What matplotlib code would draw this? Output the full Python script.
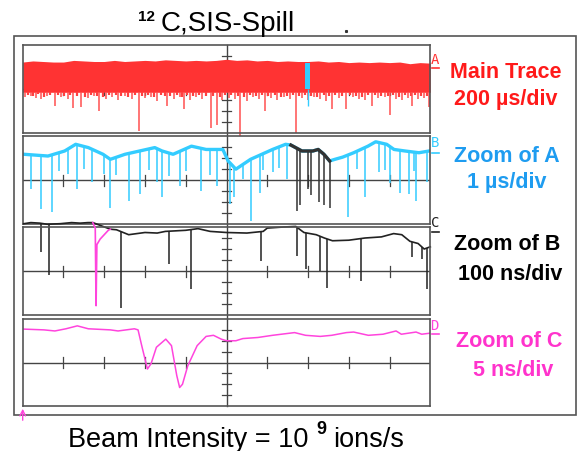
import numpy as np
import matplotlib
matplotlib.use("Agg")
import matplotlib.pyplot as plt
from matplotlib.patches import Rectangle

# ---- data (x in screen divisions 0..10, y in sub-divisions -4..4) ----
# channel A: main trace, a dense band plus downward spikes
a_x = [0, 0.25, 0.5, 0.75, 1, 1.25, 1.5, 1.75, 2, 2.25, 2.5, 2.75, 3, 3.25, 3.5, 3.75,
       4, 4.25, 4.5, 4.75, 5, 5.25, 5.5, 5.75, 6, 6.25, 6.5, 6.75, 7, 7.25, 7.5, 7.75,
       8, 8.25, 8.5, 8.75, 9, 9.25, 9.5, 9.75, 10]
a_top = [2.45, 2.55, 2.5, 2.45, 2.45, 2.6, 2.55, 2.5, 2.5, 2.6, 2.5, 2.55, 2.6, 2.55, 2.65,
         2.6, 2.55, 2.6, 2.55, 2.6, 2.7, 2.6, 2.65, 2.55, 2.6, 2.5, 2.55, 2.5, 2.5, 2.55,
         2.45, 2.5, 2.4, 2.45, 2.4, 2.45, 2.4, 2.45, 2.3, 2.4, 2.35]
a_spk_x = [0.05, 0.2, 0.32, 0.44, 0.6, 0.79, 0.95, 1.1, 1.24, 1.43, 1.6, 1.75, 1.88, 2.05,
           2.2, 2.35, 2.5, 2.68, 2.85, 3.0, 3.15, 3.3, 3.55, 3.7, 3.85, 3.96, 4.1, 4.25,
           4.4, 4.61, 4.76, 4.9, 5.05, 5.2, 5.33, 5.5, 5.65, 5.8, 5.94, 6.1, 6.25, 6.4,
           6.55, 6.7, 6.85, 7.0, 7.15, 7.3, 7.45, 7.58, 7.75, 7.93, 8.1, 8.25, 8.4, 8.57,
           8.72, 8.88, 9.01, 9.15, 9.3, 9.45, 9.56, 9.7, 9.85, 9.97]
a_spk_y = [-0.7, -0.6, -0.8, -0.9, -0.6, -1.5, -0.7, -0.9, -1.7, -1.6, -0.8, -0.6, -2.0, -0.9,
           -0.7, -1.0, -0.6, -0.9, -3.8, -0.8, -0.7, -1.1, -1.5, -0.9, -0.7, -1.8, -1.0, -0.7,
           -0.9, -3.5, -3.3, -1.0, -0.8, -0.9, -4.3, -1.1, -0.7, -0.9, -2.0, -0.8, -1.0, -0.7,
           -0.9, -4.0, -0.8, -1.0, -0.7, -0.9, -1.1, -1.8, -0.8, -1.8, -0.7, -0.9, -1.0, -1.5,
           -0.8, -0.7, -2.4, -0.9, -1.0, -0.8, -1.5, -0.9, -0.8, -1.6]
# short fringe under the band
a_frg_x = [0.12, 0.26, 0.38, 0.52, 0.68, 0.87, 1.02, 1.17, 1.33, 1.52, 1.68, 1.82, 1.97,
           2.12, 2.28, 2.42, 2.58, 2.76, 2.93, 3.08, 3.22, 3.4, 3.48, 3.62, 3.78, 3.9,
           4.03, 4.18, 4.33, 4.5, 4.68, 4.83, 4.97, 5.12, 5.27, 5.42, 5.58, 5.72, 5.87,
           6.02, 6.18, 6.33, 6.48, 6.62, 6.78, 6.92, 7.08, 7.22, 7.38, 7.52, 7.67, 7.84,
           8.02, 8.18, 8.33, 8.48, 8.65, 8.8, 8.95, 9.08, 9.23, 9.38, 9.52, 9.63, 9.78,
           9.92]
a_frg_y = [-0.5, -0.6, -0.45, -0.7, -0.5, -0.55, -0.65, -0.5, -0.6, -0.75, -0.5, -0.6, -0.7,
           -0.55, -0.5, -0.65, -0.7, -0.5, -0.6, -0.55, -0.7, -0.5, -0.65, -0.6, -0.5,
           -0.7, -0.55, -0.6, -0.5, -0.65, -0.6, -0.7, -0.5, -0.55, -0.6, -0.7, -0.5,
           -0.6, -0.55, -0.65, -0.5, -0.7, -0.6, -0.5, -0.65, -0.55, -0.6, -0.7, -0.5,
           -0.6, -0.55, -0.65, -0.5, -0.6, -0.7, -0.55, -0.5, -0.6, -0.65, -0.5, -0.7,
           -0.55, -0.6, -0.5, -0.65, -0.6]
a_zoom_x = 6.99  # marked part that is expanded in B

# channel B: zoom of A (blue), black part expanded in C
b_x = [0.03, 0.62, 1.03, 1.3, 1.61, 1.97, 2.15, 2.51, 3.24, 3.42, 3.69, 4.14, 4.5, 4.91,
       5.04, 5.23, 5.59, 6.13, 6.45, 6.58, 6.85, 7.12, 7.25, 7.39, 7.53, 7.66, 7.85, 8.12,
       8.47, 8.66, 8.93, 9.11, 9.38, 9.72, 9.97]
b_y = [2.36, 2.2, 2.66, 3.27, 2.97, 2.36, 1.9, 2.36, 2.97, 2.66, 2.36, 3.1, 2.8, 2.8,
       1.75, 1.0, 1.9, 2.8, 3.27, 3.2, 2.66, 2.66, 2.8, 2.36, 1.75, 1.9, 2.1, 2.5,
       3.1, 3.5, 3.27, 2.8, 2.66, 2.5, 2.66]
b_black = (6.58, 7.53)
b_spk_x = [0.21, 0.44, 0.71, 0.9, 1.11, 1.34, 1.5, 1.7, 2.0, 2.15, 2.3, 2.61, 2.88, 3.1,
           3.3, 3.42, 3.6, 3.87, 4.0, 4.37, 4.6, 4.77, 5.09, 5.18, 5.4, 5.59, 5.81, 5.9,
           6.13, 6.3, 6.48, 6.74, 6.8, 6.99, 7.07, 7.26, 7.39, 7.53, 7.98, 8.2, 8.39,
           8.74, 8.9, 9.02, 9.25, 9.47, 9.6, 9.65, 9.92]
b_spk_y = [-0.8, -2.6, -2.9, 0.8, 0.55, -0.8, 1.0, -0.2, 0.6, -2.5, 0.5, -1.9, -1.3, 0.9,
           -0.2, -1.5, 0.4, -0.5, 0.8, -1.0, 0.5, -0.5, -2.2, -1.5, 0.1, -3.7, -1.2, 0.9,
           0.7, 1.1, 0.1, -2.8, -2.3, -0.8, -1.4, -2.0, -2.3, -2.5, -3.4, 1.0, -1.5,
           0.7, 0.9, -0.3, -1.2, -1.3, 0.8, -1.9, -0.2]

# channel C: zoom of B (black), pink part expanded in D
c_x = [0.03, 0.2, 0.42, 0.6, 0.92, 1.2, 1.41, 1.6, 1.72, 2.15, 2.3, 2.6, 3.0, 3.3, 3.5,
       4.0, 4.3, 4.6, 5.0, 5.5, 5.9, 6.0, 6.4, 6.7, 6.9, 7.2, 7.4, 7.6, 8.0, 8.4, 8.8,
       9.1, 9.3, 9.5, 9.7, 9.85, 10.0]
c_y = [4.3, 4.4, 4.35, 4.25, 4.3, 4.4, 4.35, 4.4, 4.4, 3.8, 3.75, 3.3, 3.5, 3.45, 3.6,
       3.7, 3.85, 3.6, 3.5, 3.45, 3.6, 3.9, 4.0, 4.05, 3.5, 3.3, 3.0, 2.75, 2.8, 3.0, 3.1,
       3.4, 3.3, 2.7, 2.5, 2.0, 2.2]
c_pink_x = [1.72, 1.78, 1.8, 1.82, 1.9, 2.0, 2.1, 2.15]
c_pink_y = [4.4, 3.9, -3.15, 2.4, 2.9, 3.3, 3.7, 3.8]
c_spk_x = [0.46, 0.65, 2.42, 3.6, 4.12, 5.84, 6.72, 6.94, 7.29, 7.47, 8.3, 9.56, 9.79, 9.91]
c_spk_y = [1.7, -0.4, -3.4, 0.6, -1.6, 0.9, 1.4, 0.2, 0.0, -1.5, -0.9, 1.3, 1.1, -1.6]

# channel D: zoom of C (pink)
d_x = [0.03, 0.52, 0.79, 1.06, 1.34, 1.61, 2.15, 2.34, 2.74, 2.83, 2.92, 3.06, 3.15, 3.28,
       3.51, 3.65, 3.78, 3.85, 3.92, 4.05, 4.28, 4.5, 4.68, 4.87, 5.0, 5.23, 5.4, 5.77,
       6.13, 6.67, 6.94, 7.3, 7.58, 7.94, 8.12, 8.48, 8.84, 9.16, 9.29, 9.65, 9.79, 10.0]
d_y = [3.07, 3.0, 2.9, 3.1, 3.37, 3.1, 3.0, 2.9, 3.1, 3.0, 1.55, -0.6, -0.1, 1.4,
       2.15, 1.55, -1.2, -2.3, -2.0, -0.3, 1.55, 2.4, 2.5, 2.15, 2.0, 2.0, 2.2, 2.3,
       2.5, 2.75, 2.5, 2.4, 2.5, 2.75, 2.8, 2.5, 2.6, 2.9, 2.6, 2.8, 2.6, 2.7]

RED = "#ff3333"
BLUE = "#33ccff"
BLUE_TXT = "#1e9cf0"
PINK = "#ff44dd"
PINK_TXT = "#ff33cc"
GRID = "#444444"

W, H = 577, 452
fig = plt.figure(figsize=(W / 100, H / 100), dpi=100)
plt.rcParams['font.family'] = ['Liberation Sans', 'DejaVu Sans']

# overlay in pixel units for frame and labels
ov = fig.add_axes([0, 0, 1, 1])
ov.set_xlim(0, W)
ov.set_ylim(H, 0)
ov.axis("off")

X0, X1 = 22.7, 430.3
panels = [(46, 134), (137.3, 225), (228, 316), (320, 407)]


def make_panel(top, bot):
    ax = fig.add_axes([X0 / W, 1 - bot / H, (X1 - X0) / W, (bot - top) / H])
    ax.set_xlim(0, 10)
    ax.set_ylim(-4, 4)
    ax.set_facecolor("none")
    ax.set_xticks([])
    ax.set_yticks([])
    for s in ax.spines.values():
        s.set_color("#555555")
        s.set_linewidth(1.2)
    ax.axhline(0, color=GRID, lw=1, zorder=1)
    for k in range(1, 10):
        if k != 5:
            ax.plot([k, k], [-0.5, 0.5], color=GRID, lw=0.9, zorder=1)
    for k in (-3, -2, -1, 1, 2, 3):
        ax.plot([4.9, 5.1], [k, k], color=GRID, lw=0.9, zorder=1)
    return ax


axA, axB, axC, axD = [make_panel(t, b) for t, b in panels]

# vertical centre line through all panels
ov.plot([(X0 + X1) / 2] * 2, [46, 407], color=GRID, lw=1)

# A
axA.fill_between(a_x, -0.3, a_top, color=RED, lw=0, zorder=2)
axA.vlines(a_frg_x, -0.25, a_frg_y, color="#ff4040", lw=1.6, zorder=2)
axA.vlines(a_spk_x, -0.25, a_spk_y, color="#ff5050", lw=1.1, zorder=2, clip_on=False)
axA.fill_between([a_zoom_x - 0.06, a_zoom_x + 0.06], 0, 2.36, color=BLUE, lw=0, zorder=3)
axA.vlines([a_zoom_x], 0, -1.5, color=BLUE, lw=1, zorder=3)

# B
b_x_arr = np.array(b_x)
b_y_arr = np.array(b_y)
axB.plot(b_x, b_y, color=BLUE, lw=2.4, zorder=2)
blk = (b_x_arr >= b_black[0]) & (b_x_arr <= b_black[1])
axB.plot(b_x_arr[blk], b_y_arr[blk], color="#333333", lw=2.4, zorder=3)
b_base = np.interp(b_spk_x, b_x, b_y)
b_cols = ["#333333" if b_black[0] <= x <= b_black[1] else BLUE for x in b_spk_x]
axB.vlines(b_spk_x, b_base, b_spk_y, colors=b_cols, lw=1.1, zorder=2)

# C
axC.plot(c_x, c_y, color="#222222", lw=1.2, zorder=2, clip_on=False)
c_base = np.interp(c_spk_x, c_x, c_y)
axC.vlines(c_spk_x, c_base, c_spk_y, color="#222222", lw=1.1, zorder=2, clip_on=False)
axC.plot(c_pink_x, c_pink_y, color=PINK, lw=1.2, zorder=3, clip_on=False)

# D
axD.plot(d_x, d_y, color=PINK, lw=1.1, zorder=2)

# outer frame
ov.add_patch(Rectangle((14, 37), 561.7, 379, fill=False, ec="#555555", lw=1.2))

# channel markers
markers = [("A", 60, 69, RED), ("B", 143, 154, BLUE), ("C", 223, 233, "#222222"),
           ("D", 326, 335, PINK)]
for lab, ly, dy, col in markers:
    ov.text(434.8, ly, lab, color=col, fontsize=10, family="DejaVu Sans Mono",
            ha="center", va="center")
    ov.plot([432, 438.5], [dy, dy], color=col, lw=1.2)

# right-hand labels
labels = [("Main Trace", 506, 73, "#ff1a1a"), ("200 \u00b5s/div", 506, 100, "#ff1a1a"),
          ("Zoom of A", 506.5, 157, BLUE_TXT), ("1 \u00b5s/div", 506.5, 183, BLUE_TXT),
          ("Zoom of B", 507.5, 245, "black"), ("100 ns/div", 510, 275, "black"),
          ("Zoom of C", 509.5, 342, PINK_TXT), ("5 ns/div", 513.5, 371, PINK_TXT)]
for txt, x, y, col in labels:
    ov.text(x, y, txt, color=col, fontsize=15.5, fontweight="bold", ha="center", va="center")

# title and caption
ov.text(138, 17, "12", fontsize=11, fontweight="bold", ha="left", va="center")
ov.text(161, 24, "C,SIS-Spill", fontsize=20, ha="left", va="center")
ov.plot([346], [32], marker="s", ms=1.2, color="#333333")
ov.text(68, 440, "Beam Intensity = 10", fontsize=19.5, ha="left", va="center")
ov.text(316, 430, "9", fontsize=13, fontweight="bold", ha="left", va="center")
ov.text(333, 440, "ions/s", fontsize=19.5, ha="left", va="center")

# trigger arrow
ov.annotate("", xy=(22.7, 407), xytext=(22.7, 424),
            arrowprops=dict(arrowstyle="->", color=PINK, lw=1))

fig.savefig("out.png", dpi=100)
